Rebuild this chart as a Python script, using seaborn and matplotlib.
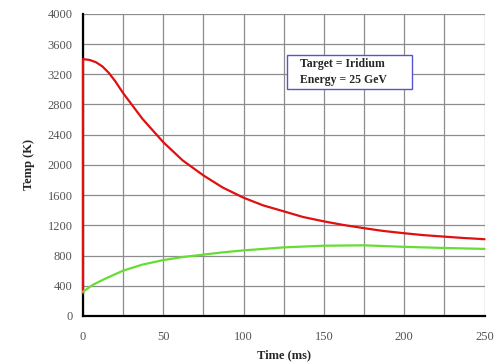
import matplotlib
matplotlib.use("Agg")
import matplotlib.pyplot as plt
import seaborn as sns
import pandas as pd
from matplotlib.ticker import MultipleLocator
from matplotlib.patches import Rectangle

sns.set_style("white")
plt.rcParams['font.family'] = ['Liberation Serif', 'DejaVu Serif']

# Data
red_t = [0, 0, 4, 8, 12, 16, 20, 25, 37, 50, 62, 75, 87, 100, 112, 125, 137, 150, 162, 175, 187, 200, 212, 225, 237, 250]
red_T = [300, 3400, 3390, 3360, 3305, 3220, 3110, 2950, 2610, 2300, 2060, 1860, 1700, 1565, 1465, 1385, 1310, 1252, 1205, 1162, 1125, 1095, 1070, 1050, 1032, 1016]
green_t = [0, 6, 12.5, 25, 37, 50, 62, 75, 87, 100, 125, 150, 175, 200, 225, 250]
green_T = [320, 410, 480, 600, 680, 740, 780, 812, 842, 868, 908, 930, 935, 915, 900, 888]

xticks = [0, 50, 100, 150, 200, 250]
yticks = [0, 400, 800, 1200, 1600, 2000, 2400, 2800, 3200, 3600, 4000]

red_df = pd.DataFrame({"t": red_t, "T": red_T})
green_df = pd.DataFrame({"t": green_t, "T": green_T})

fig = plt.figure(figsize=(4.97, 3.64), dpi=100)
ax = fig.add_axes([0.167, 0.132, 0.808, 0.83])

ax.set_xlim(0, 250)
ax.set_ylim(0, 4000)
ax.xaxis.set_minor_locator(MultipleLocator(25))
ax.set_xticks(xticks)
ax.set_yticks(yticks)
ax.grid(True, which='both', color='#8c8c8c', linewidth=0.9)
ax.set_axisbelow(True)

sns.lineplot(data=red_df, x="t", y="T", ax=ax, color='#e01010', linewidth=1.6,
             sort=False, estimator=None, clip_on=False, zorder=5)
sns.lineplot(data=green_df, x="t", y="T", ax=ax, color='#66dd33', linewidth=1.6,
             sort=False, estimator=None, clip_on=False, zorder=5)

for s in ['top', 'right']:
    ax.spines[s].set_visible(False)
for s in ['left', 'bottom']:
    ax.spines[s].set_color('black')
    ax.spines[s].set_linewidth(1.6)
ax.spines['left'].set_zorder(2)

ax.tick_params(axis='both', which='both', direction='out', length=4, color='#8c8c8c',
               labelsize=9, labelcolor='#555555')
ax.tick_params(axis='x', pad=7)

ax.set_xlabel("Time (ms)", fontsize=9, fontweight='bold', labelpad=4)
ax.set_ylabel("Temp (K)", fontsize=9, fontweight='bold', labelpad=9)

ax.add_patch(Rectangle((127, 3010), 78, 445, facecolor='white', edgecolor='#5555cc',
                       linewidth=1.0, zorder=6))
ax.text(135, 3340, "Target = Iridium", fontsize=8.5, fontweight='bold',
        ha='left', va='center', zorder=7)
ax.text(135, 3125, "Energy = 25 GeV", fontsize=8.5, fontweight='bold',
        ha='left', va='center', zorder=7)

fig.savefig("out.png", dpi=100)
